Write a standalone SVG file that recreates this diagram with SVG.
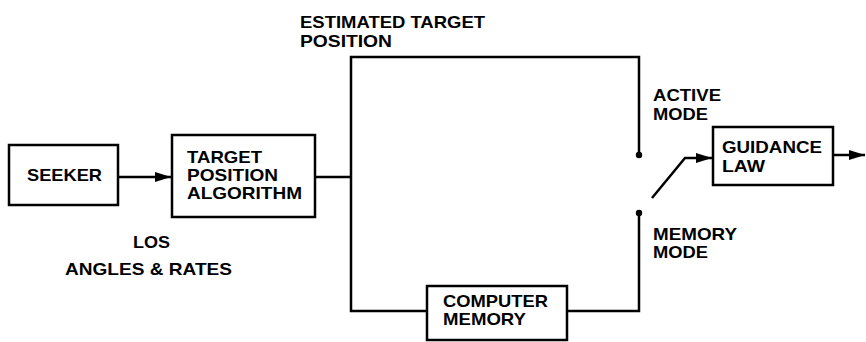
<svg xmlns="http://www.w3.org/2000/svg" width="866" height="342" viewBox="0 0 866 342">
<style>
.box{fill:none;stroke:#000;stroke-width:2.5}
.ln{fill:none;stroke:#000;stroke-width:2.5;stroke-linejoin:miter}
text{font-family:"Liberation Sans",Arial,sans-serif;font-weight:bold;font-size:17px;fill:#000}
</style>
<defs>
<marker id="ah" viewBox="0 0 16 10" refX="16" refY="5" markerWidth="16" markerHeight="10" markerUnits="userSpaceOnUse" orient="auto">
<path d="M0,0 L16,5 L0,10 z" fill="#000"/>
</marker>
</defs>
<rect width="866" height="342" fill="#fff"/>
<g id="connectors">
<line class="ln" x1="118" y1="177" x2="171" y2="177" marker-end="url(#ah)"/>
<polyline class="ln" points="315,177 351,177"/>
<polyline class="ln" points="639,155 639,57 351,57 351,311 427,311"/>
<polyline class="ln" points="567,311 639,311 639,213"/>
<circle cx="639" cy="155" r="3.2" fill="#000"/>
<circle cx="639" cy="213" r="3.2" fill="#000"/>
<polyline class="ln" points="652,198 685,158 712,158" marker-end="url(#ah)"/>
<line class="ln" x1="833" y1="155" x2="865" y2="155" marker-end="url(#ah)"/>
</g>
<g id="seeker">
<rect class="box" x="9" y="145" width="109" height="60"/>
<text x="27" y="181" textLength="75" lengthAdjust="spacingAndGlyphs">SEEKER</text>
</g>
<g id="target-position-algorithm">
<rect class="box" x="172" y="135" width="143" height="82"/>
<text x="187" y="163" textLength="75" lengthAdjust="spacingAndGlyphs">TARGET</text>
<text x="187" y="181" textLength="91" lengthAdjust="spacingAndGlyphs">POSITION</text>
<text x="187" y="199" textLength="115" lengthAdjust="spacingAndGlyphs">ALGORITHM</text>
</g>
<g id="guidance-law">
<rect class="box" x="713" y="127" width="120" height="58"/>
<text x="722" y="153" textLength="100" lengthAdjust="spacingAndGlyphs">GUIDANCE</text>
<text x="722" y="172" textLength="43" lengthAdjust="spacingAndGlyphs">LAW</text>
</g>
<g id="computer-memory">
<rect class="box" x="427" y="286" width="140" height="54"/>
<text x="443" y="307" textLength="105" lengthAdjust="spacingAndGlyphs">COMPUTER</text>
<text x="443" y="325" textLength="83" lengthAdjust="spacingAndGlyphs">MEMORY</text>
</g>
<g id="labels">
<text x="300" y="28" textLength="185" lengthAdjust="spacingAndGlyphs">ESTIMATED TARGET</text>
<text x="300" y="47" textLength="92" lengthAdjust="spacingAndGlyphs">POSITION</text>
<text x="653" y="101" textLength="68" lengthAdjust="spacingAndGlyphs">ACTIVE</text>
<text x="653" y="120" textLength="55" lengthAdjust="spacingAndGlyphs">MODE</text>
<text x="653" y="240" textLength="84" lengthAdjust="spacingAndGlyphs">MEMORY</text>
<text x="653" y="258" textLength="55" lengthAdjust="spacingAndGlyphs">MODE</text>
<text x="133" y="248" textLength="37" lengthAdjust="spacingAndGlyphs">LOS</text>
<text x="65" y="275" textLength="167" lengthAdjust="spacingAndGlyphs">ANGLES &amp; RATES</text>
</g>
</svg>
